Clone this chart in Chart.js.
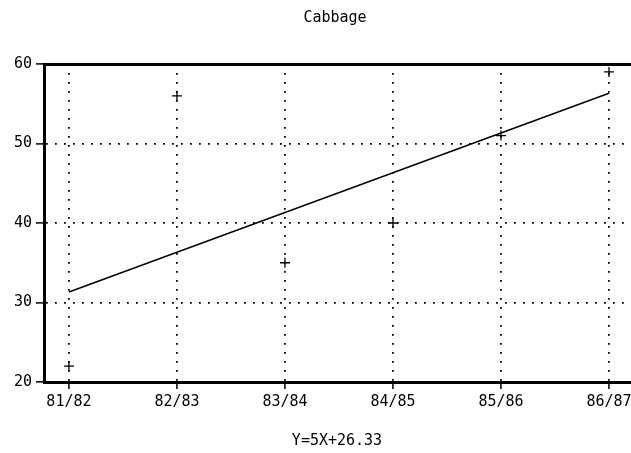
<!DOCTYPE html>
<html>
<head>
<meta charset="utf-8">
<title>Cabbage</title>
<script src="https://cdn.jsdelivr.net/npm/chart.js@4/dist/chart.umd.min.js"></script>
<style>
  html, body { margin: 0; padding: 0; background: #fff; }
  canvas { display: block; }
</style>
</head>
<body>
<canvas id="chart" width="631" height="453"></canvas>
<script>
const seasons = ['81/82', '82/83', '83/84', '84/85', '85/86', '86/87'];
const yields = [22, 56, 35, 40, 51, 59];
const yTicks = [20, 30, 40, 50, 60];
const slope = 5;
const intercept = 26.33;

const titleText = 'Cabbage';
const fitText = 'Y=' + slope + 'X+' + intercept.toFixed(2);
const monoFont = '"DejaVu Sans Mono", "Liberation Mono", monospace';

const points = yields.map((v, i) => ({ x: i, y: v }));
// fitted line over the seasons, X counted from 1
const fitLine = [0, seasons.length - 1].map(i => ({ x: i, y: slope * (i + 1) + intercept }));

// title above and equation below the plot
const captions = {
    id: 'captions',
    afterDraw(chart) {
        const c = chart.ctx;
        c.save();
        c.fillStyle = '#000';
        c.font = '15px ' + monoFont;
        c.textAlign = 'center';
        c.textBaseline = 'middle';
        c.fillText(titleText, 335, 18);
        c.fillText(fitText, 337, 441);
        c.restore();
    },
};

// plot runs right up to the canvas edge, last label may clip
const noEdgePad = s => { s.paddingLeft = 0; s.paddingRight = 0; };

const ctx = document.getElementById('chart').getContext('2d');
const chart = new Chart(ctx, {
    type: 'scatter',
    data: {
        datasets: [
            {
                label: 'Cabbage',
                data: points,
                pointStyle: 'cross',
                pointRadius: 5,
                pointBorderWidth: 1.3,
                borderColor: '#000',
                backgroundColor: '#000',
                showLine: false,
            },
            {
                label: fitText,
                data: fitLine,
                showLine: true,
                pointRadius: 0,
                borderColor: '#000',
                borderWidth: 1.5,
            },
        ],
    },
    options: {
        responsive: false,
        animation: false,
        maintainAspectRatio: false,
        layout: { autoPadding: false, padding: { top: 64, right: 0, bottom: 0, left: 0 } },
        plugins: {
            legend: { display: false },
            tooltip: { enabled: false },
        },
        scales: {
            x: {
                type: 'linear',
                position: 'bottom',
                min: -0.231,
                max: 5.204,
                afterBuildTicks: s => { s.ticks = seasons.map((_, i) => ({ value: i })); },
                afterFit: s => { s.height = 71; noEdgePad(s); },
                ticks: {
                    callback: v => seasons[v],
                    color: '#000',
                    font: { family: monoFont, size: 15 },
                    padding: 4,
                    maxRotation: 0,
                },
                grid: {
                    color: '#000',
                    lineWidth: 1.8,
                    tickLength: 7,
                    tickWidth: 1.5,
                    tickColor: '#000',
                    tickBorderDash: [],
                },
                border: { color: '#000', width: 3, dash: [1.8, 7.2] },
            },
            xTop: {
                type: 'linear',
                position: 'top',
                min: -0.231,
                max: 5.204,
                afterFit: s => { s.height = 0; noEdgePad(s); },
                ticks: { display: false },
                grid: { display: false },
                border: { color: '#000', width: 3 },
            },
            y: {
                min: 20,
                max: 60,
                afterBuildTicks: s => { s.ticks = yTicks.map(v => ({ value: v })); },
                afterFit: s => { s.width = 44; s.paddingTop = 0; s.paddingBottom = 0; },
                ticks: {
                    color: '#000',
                    font: { family: monoFont, size: 15 },
                    padding: 4,
                },
                grid: {
                    color: '#000',
                    lineWidth: 1.8,
                    tickLength: 8,
                    tickWidth: 1.5,
                    tickColor: '#000',
                    tickBorderDash: [],
                },
                border: { color: '#000', width: 3, dash: [1.8, 7.2] },
            },
        },
    },
    plugins: [captions],
});
</script>
</body>
</html>
